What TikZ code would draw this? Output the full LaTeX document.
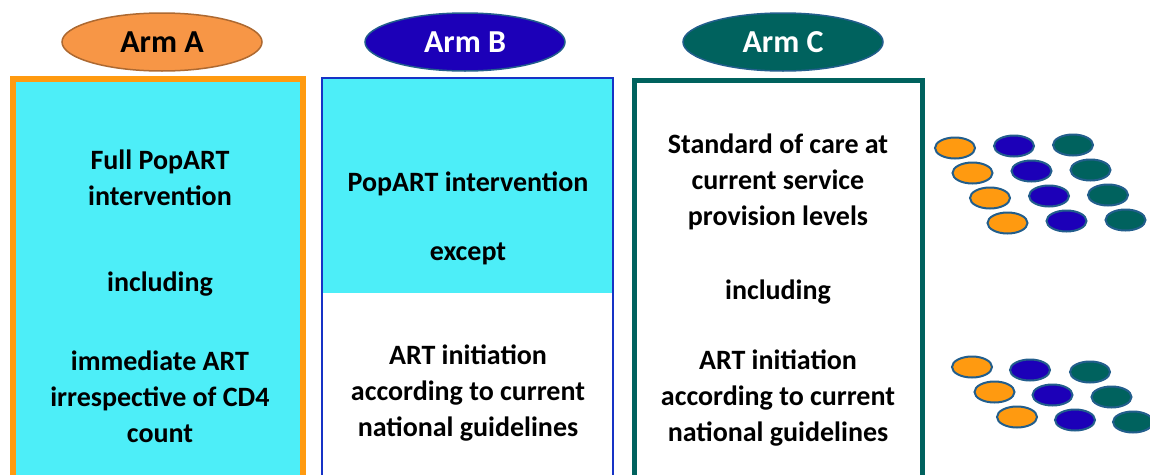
\documentclass[tikz,border=0pt]{standalone}
\usepackage{fontspec}
\setmainfont{Carlito}
\usetikzlibrary{shapes.geometric}
\definecolor{armcyan}{HTML}{4DEEF8}
\definecolor{armorange}{HTML}{F79646}
\definecolor{armedge}{HTML}{FF9A10}
\definecolor{armblue}{HTML}{1C00B8}
\definecolor{armteal}{HTML}{00625E}
\definecolor{dotedge}{HTML}{225E8C}
\begin{document}
\begin{tikzpicture}[x=1pt,y=-1pt,
  label/.style={ellipse,minimum width=200pt,minimum height=58pt,inner sep=0pt,line width=1.5pt,font=\fontsize{32}{34}\selectfont\bfseries},
  txt/.style={align=center,font=\fontsize{28}{36}\selectfont\bfseries},
  dot/.style={ellipse,draw=dotedge,line width=2pt,minimum width=40pt,minimum height=21pt,inner sep=0pt}]
\useasboundingbox (0,0) rectangle (1150,474);
% the three arms
\filldraw [line width=6pt, draw=armedge, fill=armcyan] (13,79) rectangle (303,480);
\fill [armcyan] (322,78) rectangle (613,293);
\draw [line width=2pt, draw=armblue!80!cyan] (322,78) rectangle (613,480);
\draw [line width=5pt, draw=armteal] (634,80) rectangle (922,480);
\node (armA) at (162,42) [label,fill=armorange,draw=armorange!70!black] {Arm A};
\node (armB) at (465,42) [label,fill=armblue,draw=dotedge,text=white] {Arm B};
\node (armC) at (783,42) [label,fill=armteal,draw=dotedge,text=white] {Arm C};
% Arm A text
\node (a1) at (160,178) [txt] {Full PopART\\intervention};
\node (a2) at (160,284) [txt] {including};
\node (a3) at (160,397) [txt] {immediate ART\\irrespective of CD4\\count};
% Arm B text
\node (b1) at (468,184) [txt] {PopART intervention};
\node (b2) at (468,254) [txt] {except};
\node (b3) at (468,393) [txt] {ART initiation\\according to current\\national guidelines};
% Arm C text
\node (c1) at (778,182) [txt] {Standard of care at\\current service\\provision levels};
\node (c2) at (778,292) [txt] {including};
\node (c3) at (778,398) [txt] {ART initiation\\according to current\\national guidelines};
% communities
\foreach \r in {0,...,3} {
  \node (ta\r) at (955+17.5*\r,148+25*\r) [dot,fill=armedge] {};
  \node (tb\r) at (1014+17.5*\r,146+25*\r) [dot,fill=armblue] {};
  \node (tc\r) at (1073+17.5*\r,145+25*\r) [dot,fill=armteal] {};
}
\foreach \r in {0,...,2} {
  \node (ba\r) at (972+22.5*\r,367+25*\r) [dot,fill=armedge] {};
  \node (bb\r) at (1030+22.5*\r,370+25*\r) [dot,fill=armblue] {};
  \node (bc\r) at (1090+21.5*\r,372+25*\r) [dot,fill=armteal] {};
}
\end{tikzpicture}
\end{document}
